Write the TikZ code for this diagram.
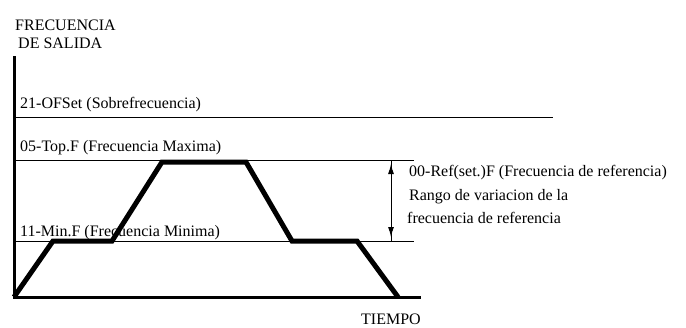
\documentclass[tikz,border=0pt]{standalone}
\usepackage{fontspec}
\setmainfont{Liberation Serif}
\usetikzlibrary{arrows.meta}
\begin{document}
\begin{tikzpicture}[x=1pt,y=-1pt,
  lbl/.style={anchor=base west, inner sep=0pt, font=\fontsize{16}{19}\selectfont},
  axisline/.style={line width=3pt},
  levelline/.style={line width=1pt},
  ramp/.style={line width=5pt, line join=miter},
  span/.style={line width=1pt, {Latex[length=10pt,width=6pt]}-{Latex[length=10pt,width=6pt]},
               shorten <=4pt, shorten >=4pt}]
\useasboundingbox (0,0) rectangle (686,327);

% axes
\coordinate (ytop) at (14,56);
\coordinate (orig) at (14,297);
\coordinate (xend) at (421,297);
\draw[axisline] (ytop) -- (orig) -- (xend);

% frequency levels
\coordinate (of0) at (14,117);  \coordinate (of1) at (553,117);
\coordinate (tp0) at (14,160);  \coordinate (tp1) at (414,160);
\coordinate (mn0) at (14,241);  \coordinate (mn1) at (414,241);
\draw[levelline] (of0) -- (of1);
\draw[levelline] (tp0) -- (tp1);
\draw[levelline] (mn0) -- (mn1);

% output frequency profile
\coordinate (p1) at (53,241);
\coordinate (p2) at (112,241);
\coordinate (p3) at (162,162);
\coordinate (p4) at (246,162);
\coordinate (p5) at (292,241);
\coordinate (p6) at (357,241);
\coordinate (p7) at (398,297);
\draw[ramp] (orig) -- (p1) -- (p2) -- (p3) -- (p4) -- (p5) -- (p6) -- (p7);

% reference range
\coordinate (ra) at (391,160);
\coordinate (rb) at (391,241);
\draw[levelline] (ra) -- (rb);
\draw[span] (ra) -- (rb);

% labels
\node[lbl] (t1) at (15,30) {FRECUENCIA};
\node[lbl] (t2) at (18,48) {DE SALIDA};
\node[lbl] (t3) at (20,108) {21-OFSet (Sobrefrecuencia)};
\node[lbl] (t4) at (20,151) {05-Top.F (Frecuencia Maxima)};
\node[lbl] (t5) at (20,236) {11-Min.F (Frecuencia Minima)};
\node[lbl] (t6) at (409,176) {00-Ref(set.)F (Frecuencia de referencia)};
\node[lbl] (t7) at (409,200) {Rango de variacion de la};
\node[lbl] (t8) at (407,223) {frecuencia de referencia};
\node[lbl] (t9) at (361,324) {TIEMPO};
\end{tikzpicture}
\end{document}
